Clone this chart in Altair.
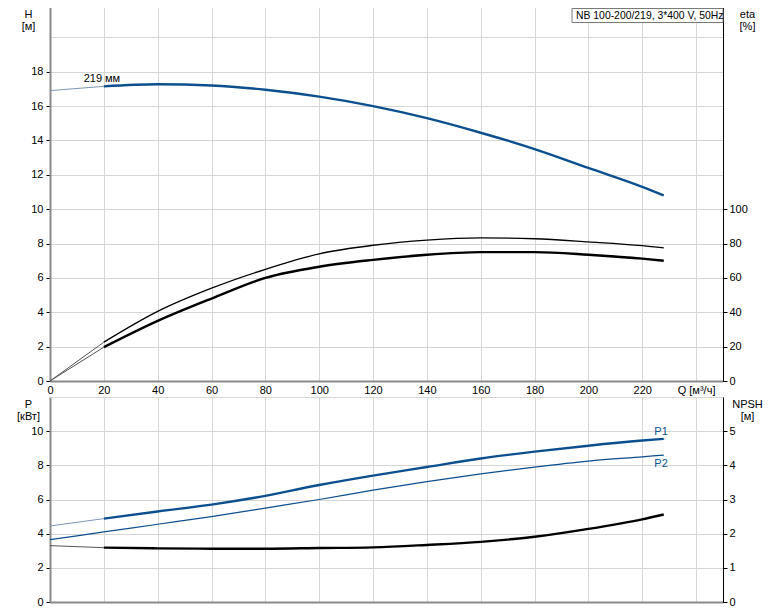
import altair as alt
import pandas as pd

FONT = "Liberation Sans"
BLUE = "#0d4f8e"
GRID = "#d6d6d6"

# ---------------- data ----------------
q = [0, 20, 40, 60, 80, 100, 120, 140, 160, 180, 200, 220, 228]
h_219 = [16.9, 17.15, 17.27, 17.2, 16.95, 16.55, 16.0, 15.3, 14.45, 13.5, 12.4, 11.3, 10.8]
eta_upper = [0, 22.6, 40.5, 54, 65, 74, 79, 82, 83.3, 82.8, 81, 78.8, 77.5]
eta_lower = [0, 19.7, 35, 48, 60, 66.5, 70.5, 73.5, 75, 75, 73.5, 71.2, 70]

q_p1 = [0, 20, 40, 60, 76, 100, 120, 140, 160, 180, 200, 220, 228]
p1 = [4.45, 4.88, 5.3, 5.7, 6.1, 6.85, 7.4, 7.9, 8.4, 8.8, 9.15, 9.45, 9.55]
p2 = [3.65, 4.1, 4.55, 5.0, 5.5, 6.0, 6.55, 7.05, 7.5, 7.9, 8.25, 8.5, 8.6]
npsh = [1.65, 1.59, 1.57, 1.56, 1.56, 1.58, 1.6, 1.67, 1.76, 1.91, 2.14, 2.42, 2.56]

curve_label = ["219 мм"]
curve_label_q = [12.5]
curve_label_h = [17.4]

p_labels = ["P1", "P2"]
p_labels_q = [227]
p_labels_p = [9.95, 8.1]

box_title = "NB 100-200/219, 3*400 V, 50Hz"
q_ticks = list(range(0, 241, 20))

# ---------------- tables ----------------
df_h = pd.DataFrame({"Q": q, "H": h_219})
df_eta = pd.DataFrame({"Q": q, "up": eta_upper, "lo": eta_lower})
df_p = pd.DataFrame({"Q": q_p1, "P1": p1})
df_p2 = pd.DataFrame({"Q": q, "P2": p2, "NPSH": npsh})
df_lbl = pd.DataFrame({"Q": curve_label_q, "H": curve_label_h, "t": curve_label})
df_plbl = pd.DataFrame({"Q": p_labels_q * 2, "P": p_labels_p, "t": p_labels})

W, H1, H2 = 673, 378, 205

xscale = alt.Scale(domain=[0, 250], nice=False, zero=False)


def x_top():
    return alt.X("Q:Q", scale=xscale, axis=alt.Axis(
        values=q_ticks, title=None, grid=True, gridColor=GRID,
        labelExpr="datum.value == 240 ? 'Q [м³/ч]' : datum.label",
        domainColor="#8a8a8a", domainWidth=2, ticks=False, labelPadding=3,
        labelFlush=False))


def x_bot():
    return alt.X("Q:Q", scale=xscale, axis=alt.Axis(
        values=q_ticks, title=None, grid=True, gridColor=GRID, labels=False,
        domainColor="#8a8a8a", domainWidth=2, ticks=False))


def y_left(field, dom, vals, maxlab, title, ty):
    return alt.Y(field, scale=alt.Scale(domain=dom, nice=False), axis=alt.Axis(
        values=vals, labelExpr=f"datum.value > {maxlab} ? '' : datum.label",
        title=title, titleAngle=0, titleAlign="center", titleBaseline="top",
        titleX=-22, titleY=ty, titleLineHeight=12, titleFontWeight="normal",
        grid=True, gridColor=GRID,
        domainColor="#8a8a8a", domainWidth=2, tickSize=4, labelPadding=3,
        tickOpacity={"condition": {"test": f"datum.value > {maxlab}", "value": 0}, "value": 1},
        labelFlush=False))


def y_right(field, dom, vals, title, ty):
    return alt.Y(field, scale=alt.Scale(domain=dom, nice=False), axis=alt.Axis(
        orient="right", values=vals, title=title, titleAngle=0, titleAlign="center",
        titleBaseline="top", titleX=24, titleY=ty, titleLineHeight=12,
        titleFontWeight="normal",
        grid=False, domainColor="#000", domainWidth=1, tickSize=4, labelPadding=2,
        labelFlush=False))


def seg(df, field, yenc, color, width, lo=None, hi=None):
    c = alt.Chart(df)
    if lo is not None:
        c = c.transform_filter(f"datum.Q >= {lo}")
    if hi is not None:
        c = c.transform_filter(f"datum.Q <= {hi}")
    return c.mark_line(color=color, strokeWidth=width, interpolate="monotone").encode(
        x=x_enc(), y=yenc)


# ---------------- top panel ----------------
x_enc = x_top
yH = lambda f: y_left(f, [0, 22], list(range(0, 21, 2)), 18, ["H", "[м]"], 5)
yE = lambda f: y_right(f, [0, 220], list(range(0, 101, 20)), ["eta", "[%]"], 5)

left_top = alt.layer(
    seg(df_h, "H", yH("H:Q"), "#7d95b5", 1, hi=20),
    seg(df_h, "H", yH("H:Q"), BLUE, 2.4, lo=20),
    alt.Chart(df_lbl).mark_text(align="left", baseline="alphabetic", font=FONT,
                                fontSize=11, color="#000").encode(
        x=x_top(), y=yH("H:Q"), text="t:N"),
)
right_top = alt.layer(
    seg(df_eta, "up", yE("up:Q"), "#555", 1, hi=20),
    seg(df_eta, "up", yE("up:Q"), "#000", 1.3, lo=20),
    seg(df_eta, "lo", yE("lo:Q"), "#555", 1, hi=20),
    seg(df_eta, "lo", yE("lo:Q"), "#000", 2.4, lo=20),
)
box = alt.Chart(pd.DataFrame({"t": [box_title]})).mark_rect(
    fill="white", stroke="#7a7a7a", strokeWidth=1).encode(
    x=alt.value(522), x2=alt.value(W), y=alt.value(5.5), y2=alt.value(19.5))
box_txt = alt.Chart(pd.DataFrame({"t": [box_title]})).mark_text(
    align="left", baseline="middle", font=FONT, fontSize=10.4, color="#000").encode(
    x=alt.value(526), y=alt.value(13), text="t:N")

top = alt.layer(left_top, right_top, box, box_txt).resolve_scale(
    y="independent").properties(width=W, height=H1)

# ---------------- bottom panel ----------------
x_enc = x_bot
yP = lambda f: y_left(f, [0, 12], list(range(0, 13, 2)), 10, ["P", "[кВт]"], 1)
yN = lambda f: y_right(f, [0, 6], list(range(0, 6, 1)), ["NPSH", "[м]"], 1)

left_bot = alt.layer(
    seg(df_p, "P1", yP("P1:Q"), "#7d95b5", 1, hi=20),
    seg(df_p, "P1", yP("P1:Q"), BLUE, 2.4, lo=20),
    seg(df_p2, "P2", yP("P2:Q"), BLUE, 1.2),
    alt.Chart(df_plbl).mark_text(align="center", baseline="middle", font=FONT,
                                 fontSize=11, color=BLUE).encode(
        x=x_bot(), y=yP("P:Q"), text="t:N"),
)
right_bot = alt.layer(
    seg(df_p2, "NPSH", yN("NPSH:Q"), "#555", 1, hi=20),
    seg(df_p2, "NPSH", yN("NPSH:Q"), "#000", 2.4, lo=20),
)
bottom = alt.layer(left_bot, right_bot).resolve_scale(
    y="independent").properties(width=W, height=H2)

chart = alt.vconcat(top, bottom, spacing=2).configure_axis(
    labelFont=FONT, labelFontSize=11, titleFont=FONT, titleFontSize=11,
    labelColor="#000", titleColor="#000", tickColor="#000", gridWidth=1,
).configure_view(stroke=None).properties(padding={"left": 8, "top": -5, "right": 0, "bottom": 0})

chart.save("out.html", embed_options={"renderer": "svg", "actions": False})
